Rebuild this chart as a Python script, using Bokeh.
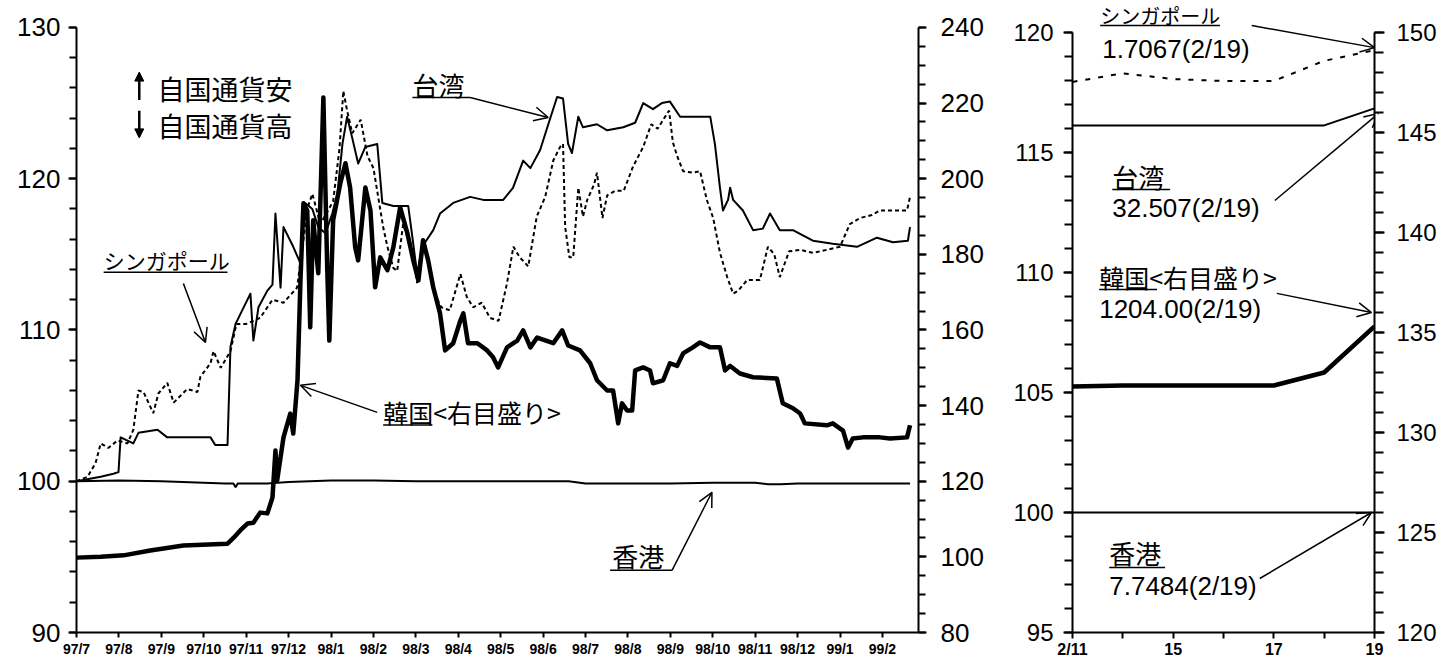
from bokeh.plotting import figure
from bokeh.models import (Range1d, LinearAxis, SingleIntervalTicker, FixedTicker,
                          Label, Arrow, OpenHead, NormalHead)
from bokeh.layouts import row
from bokeh.embed import file_html
from bokeh.resources import INLINE

# ---------------- data: left panel (x = months since 97/7) ----------------
month_labels = ["97/7", "97/8", "97/9", "97/10", "97/11", "97/12", "98/1", "98/2",
                "98/3", "98/4", "98/5", "98/6", "98/7", "98/8", "98/9", "98/10",
                "98/11", "98/12", "99/1", "99/2"]

sg_x = [0, 0.26, 0.45, 0.57, 0.75, 0.97, 1.20, 1.34, 1.46, 1.58, 1.81, 1.93, 2.14, 2.29,
        2.61, 2.85, 2.92, 3.16, 3.23, 3.40, 3.63, 3.77, 4.00, 4.33, 4.62, 4.88, 5.20, 5.45,
        5.56, 5.75, 6.05, 6.20, 6.29, 6.38, 6.50, 6.70, 6.86, 7.00, 7.23, 7.33, 7.47, 7.56,
        7.70, 7.94, 8.03, 8.20, 8.41, 8.60, 8.80, 9.05, 9.20, 9.35, 9.55, 9.75, 9.95, 10.15,
        10.30, 10.45, 10.65, 10.85, 11.05, 11.24, 11.40, 11.47, 11.52, 11.62, 11.71, 11.83,
        11.94, 12.04, 12.20, 12.27, 12.40, 12.51, 12.70, 12.90, 13.12, 13.36, 13.55, 13.70,
        13.83, 13.97, 14.06, 14.16, 14.30, 14.53, 14.70, 14.86, 15.01, 15.17, 15.34, 15.48,
        15.60, 15.81, 16.11, 16.30, 16.45, 16.58, 16.80, 17.06, 17.36, 17.69, 18.00, 18.23,
        18.47, 18.75, 18.94, 19.25, 19.58, 19.65]
sg_y = [100.0, 100.3, 101.2, 102.5, 102.2, 102.7, 102.5, 103.4, 106.0, 105.9, 104.5, 105.8,
        106.5, 105.2, 106.1, 105.9, 106.9, 107.8, 108.6, 107.5, 108.6, 110.4, 110.4, 110.8,
        112.0, 111.8, 112.8, 118.1, 119.0, 117.0, 118.5, 122.0, 125.8, 124.5, 123.0, 123.9,
        121.5, 120.7, 116.8, 115.5, 114.1, 113.9, 117.0, 114.9, 113.1, 115.9, 112.6, 111.5,
        111.3, 113.7, 112.2, 111.5, 111.8, 110.8, 110.6, 113.1, 115.5, 114.8, 114.2, 117.5,
        118.8, 121.2, 122.1, 122.3, 116.8, 114.8, 114.8, 119.4, 117.5, 118.6, 119.6, 120.4,
        117.4, 118.9, 119.2, 119.2, 120.8, 122.1, 123.6, 123.3, 123.9, 124.5, 122.4, 121.5,
        120.5, 120.4, 120.5, 118.6, 117.4, 115.1, 113.5, 112.4, 112.6, 113.3, 113.3, 115.5,
        115.0, 113.5, 115.2, 115.3, 115.1, 115.3, 115.5, 117.0, 117.4, 117.6, 117.9, 117.9,
        117.9, 118.8]

tw_x = [0, 0.57, 0.87, 0.99, 1.04, 1.34, 1.46, 1.91, 2.14, 3.16, 3.27, 3.56, 3.63, 3.75,
        4.10, 4.17, 4.29, 4.50, 4.62, 4.69, 4.81, 4.88, 5.11, 5.28, 5.39, 5.56, 5.70, 5.87,
        6.03, 6.15, 6.27, 6.38, 6.50, 6.64, 6.81, 7.09, 7.21, 7.47, 7.82, 7.92, 8.03, 8.15,
        8.41, 8.57, 8.88, 9.28, 9.59, 10.06, 10.29, 10.53, 10.70, 10.93, 11.10, 11.33, 11.47,
        11.59, 11.68, 11.83, 11.94, 12.27, 12.51, 12.89, 13.17, 13.36, 13.59, 13.80, 13.99,
        14.23, 14.63, 14.94, 15.05, 15.17, 15.24, 15.36, 15.41, 15.48, 15.71, 15.95, 16.18,
        16.35, 16.58, 16.89, 17.36, 17.83, 18.40, 18.87, 19.25, 19.60, 19.65]
tw_y = [100.0, 100.3, 100.5, 100.6, 102.9, 102.5, 103.2, 103.4, 102.9, 102.9, 102.4, 102.4,
        108.9, 110.4, 112.4, 109.3, 111.5, 112.6, 113.0, 117.7, 112.8, 116.8, 115.5, 114.4,
        118.4, 118.0, 116.8, 116.4, 117.7, 119.0, 122.3, 124.1, 122.7, 121.0, 122.1, 122.3,
        118.4, 118.2, 118.2, 116.1, 113.7, 115.5, 116.6, 117.7, 118.4, 118.8, 118.6, 118.6,
        119.4, 121.2, 120.7, 121.9, 123.4, 125.4, 125.3, 122.3, 121.7, 124.1, 123.4, 123.6,
        123.2, 123.4, 123.7, 125.0, 124.6, 125.0, 125.1, 124.1, 124.1, 124.1, 122.3, 119.4,
        117.9, 118.6, 119.4, 118.6, 117.9, 116.6, 116.7, 117.7, 116.6, 116.6, 115.9, 115.7,
        115.5, 116.1, 115.8, 115.9, 116.8]

kr_x = [0, 0.57, 1.11, 1.74, 2.52, 3.56, 3.70, 3.86, 4.03, 4.17, 4.33, 4.50, 4.62, 4.69,
        4.73, 4.88, 5.04, 5.11, 5.21, 5.28, 5.35, 5.44, 5.51, 5.58, 5.70, 5.82, 5.91, 5.96,
        6.05, 6.22, 6.34, 6.45, 6.57, 6.64, 6.81, 6.93, 7.04, 7.16, 7.33, 7.47, 7.63, 7.80,
        7.94, 8.06, 8.17, 8.29, 8.41, 8.57, 8.69, 8.88, 9.05, 9.12, 9.23, 9.45, 9.68, 9.82,
        9.94, 10.15, 10.39, 10.53, 10.70, 10.86, 11.24, 11.45, 11.59, 11.87, 12.11, 12.27,
        12.51, 12.65, 12.77, 12.86, 12.98, 13.10, 13.17, 13.36, 13.52, 13.59, 13.83, 13.99,
        14.16, 14.30, 14.53, 14.70, 14.94, 15.17, 15.29, 15.41, 15.64, 15.95, 16.51, 16.65,
        16.89, 17.06, 17.17, 17.69, 17.83, 18.07, 18.19, 18.30, 18.54, 18.94, 19.18, 19.58,
        19.65]
kr_y = [99.8, 100.0, 100.4, 101.7, 103.0, 103.5, 105.0, 107.0, 108.8, 109.0, 111.7, 111.5,
        115.7, 128.1, 120.2, 131.6, 137.9, 132.6, 146.7, 173.1, 193.5, 191.6, 160.7, 189.0,
        175.0, 221.5, 176.6, 157.2, 189.0, 198.8, 204.1, 197.7, 181.9, 178.4, 197.7, 191.6,
        171.3, 179.2, 175.8, 181.9, 192.4, 185.6, 178.4, 173.1, 183.7, 178.4, 171.3, 164.4,
        154.6, 156.5, 162.5, 164.4, 156.5, 156.5, 154.6, 152.8, 150.1, 155.4, 157.2, 159.9,
        155.4, 158.0, 156.5, 159.9, 155.9, 154.6, 151.2, 146.7, 144.0, 144.0, 135.3, 140.6,
        138.7, 138.7, 149.3, 150.1, 149.3, 145.9, 146.7, 151.2, 150.5, 153.8, 155.4, 156.7,
        155.4, 155.4, 149.3, 150.5, 148.5, 147.5, 147.2, 140.6, 139.3, 137.9, 135.3, 134.8,
        135.3, 133.4, 128.9, 131.3, 131.6, 131.6, 131.3, 131.6, 134.8]

hk_x = [0, 1, 2, 3, 3.5, 3.70, 3.75, 3.80, 4, 4.5, 5, 6, 7, 8, 9, 10, 11, 11.6, 12, 13,
        14, 15, 16, 16.3, 16.6, 17, 18, 19, 19.65]
hk_y = [100.0, 100.05, 100.0, 99.9, 99.85, 99.85, 99.6, 99.85, 99.85, 99.85, 99.95, 100.05,
        100.05, 100.0, 100.0, 100.0, 100.0, 100.0, 99.85, 99.85, 99.85, 99.9, 99.9, 99.8,
        99.8, 99.85, 99.85, 99.85, 99.85]

# ---------------- data: right panel (trading days 2/11 .. 2/19) ----------------
days = ["2/11", "2/12", "2/15", "2/16", "2/17", "2/18", "2/19"]
day_tick_labels = {0: "2/11", 2: "15", 4: "17", 6: "19"}
sg_recent = [117.94, 118.30, 118.06, 117.98, 117.98, 118.82, 119.26]
tw_recent = [116.13, 116.13, 116.13, 116.13, 116.13, 116.13, 116.84]
kr_recent = [132.3, 132.35, 132.35, 132.35, 132.35, 133.0, 135.3]
hk_recent = [100.0, 100.0, 100.0, 100.0, 100.0, 100.0, 100.0]

JP = "Noto Sans CJK JP"
NUM = "Liberation Sans"

TOP = 2          # common top border (room for notes above the axes)
BOTTOM = 28      # common bottom border
FRAME_H = 630


def style_axis(ax, size, tick_out, standoff, bold=False):
    ax.axis_line_width = 2
    ax.axis_line_color = "black"
    ax.major_tick_line_width = 2
    ax.minor_tick_line_width = 2
    ax.major_tick_line_color = "black"
    ax.minor_tick_line_color = "black"
    ax.major_tick_in = 0
    ax.minor_tick_in = 0
    ax.major_tick_out = tick_out
    ax.minor_tick_out = tick_out - 1
    ax.major_label_text_font = NUM
    ax.major_label_text_font_size = size
    ax.major_label_text_color = "black"
    ax.major_label_standoff = standoff
    ax.major_label_text_font_style = "bold" if bold else "normal"


def add_label(p, x, y, text, size, font=JP):
    p.add_layout(Label(x=x, y=y, text=text, text_font=font, text_font_size=size,
                       text_baseline="middle", text_align="left", text_color="black"))


def add_line(p, x0, y0, x1, y1, head=None, width=1.5):
    p.add_layout(Arrow(x_start=x0, y_start=y0, x_end=x1, y_end=y1, end=head,
                       line_width=width, line_color="black"))


def open_head():
    return OpenHead(size=14, line_width=1.5, line_color="black")


# ---------------- left figure ----------------
p1 = figure(frame_width=842, frame_height=FRAME_H, x_range=Range1d(0, 19.85),
            y_range=Range1d(90, 131.65),
            output_backend="svg", toolbar_location=None,
            min_border_left=76, min_border_right=77, min_border_top=TOP, min_border_bottom=BOTTOM)
p1.outline_line_color = None
p1.grid.visible = False
p1.extra_y_ranges = {"kr": Range1d(80, 246.6)}
p1.add_layout(LinearAxis(y_range_name="kr", bounds=(80, 240),
                         ticker=SingleIntervalTicker(interval=20, num_minor_ticks=4)), "right")
p1.yaxis[0].ticker = SingleIntervalTicker(interval=10, num_minor_ticks=5)
p1.yaxis[0].bounds = (90, 130)
p1.xaxis.ticker = FixedTicker(ticks=list(range(len(month_labels))), minor_ticks=[])
p1.xaxis.major_label_overrides = {i: lab for i, lab in enumerate(month_labels)}

style_axis(p1.yaxis[0], "26px", 8, 8)
style_axis(p1.yaxis[1], "26px", 8, 14)
style_axis(p1.xaxis[0], "14px", 5, 3, bold=True)

p1.line(hk_x, hk_y, line_width=2, color="black")
p1.line(tw_x, tw_y, line_width=2, color="black", line_join="round")
p1.line(sg_x, sg_y, line_width=2, color="black", line_dash="4 3")
p1.line(kr_x, kr_y, y_range_name="kr", line_width=4.5, color="black", line_join="round")

# notes
p1.add_layout(Arrow(x_start=1.48, y_start=125.2, x_end=1.48, y_end=127.05,
                    end=NormalHead(size=9, fill_color="black", line_color="black"),
                    line_width=2.5, line_color="black"))
p1.add_layout(Arrow(x_start=1.48, y_start=124.5, x_end=1.48, y_end=122.7,
                    end=NormalHead(size=9, fill_color="black", line_color="black"),
                    line_width=2.5, line_color="black"))
add_label(p1, 1.91, 125.97, "自国通貨安", "27px")
add_label(p1, 1.91, 123.52, "自国通貨高", "27px")

# Taiwan
add_label(p1, 7.92, 126.23, "台湾", "26px")
add_line(p1, 7.92, 125.37, 9.28, 125.37)
add_line(p1, 9.28, 125.37, 11.12, 124.05, open_head())
# Singapore
add_label(p1, 0.64, 114.6, "シンガポール", "21px")
add_line(p1, 0.64, 113.81, 3.56, 113.81)
add_line(p1, 2.52, 113.08, 3.04, 109.18, open_head())
# Korea
add_label(p1, 7.23, 104.55, "韓国<右目盛り>", "25px")
add_line(p1, 7.23, 103.72, 8.39, 103.72)
add_line(p1, 7.09, 104.55, 5.28, 106.34, open_head())
# Hong Kong
add_label(p1, 12.63, 95.1, "香港", "26px")
add_line(p1, 12.58, 94.11, 14.04, 94.11)
add_line(p1, 14.04, 94.11, 14.98, 99.27, open_head())

# ---------------- right figure ----------------
dx = list(range(len(days)))
p2 = figure(frame_width=302, frame_height=FRAME_H, x_range=Range1d(0, 6),
            y_range=Range1d(95, 121.25),
            output_backend="svg", toolbar_location=None,
            min_border_left=77, min_border_right=66, min_border_top=TOP, min_border_bottom=BOTTOM)
p2.outline_line_color = None
p2.grid.visible = False
p2.extra_y_ranges = {"kr": Range1d(120, 151.5)}
p2.add_layout(LinearAxis(y_range_name="kr", bounds=(120, 150),
                         ticker=SingleIntervalTicker(interval=5, num_minor_ticks=5)), "right")
p2.yaxis[0].ticker = SingleIntervalTicker(interval=5, num_minor_ticks=5)
p2.yaxis[0].bounds = (95, 120)
p2.xaxis.ticker = FixedTicker(ticks=sorted(day_tick_labels), minor_ticks=[1, 3, 5])
p2.xaxis.major_label_overrides = day_tick_labels

style_axis(p2.yaxis[0], "24px", 9, 10)
style_axis(p2.yaxis[1], "24px", 10, 12)
style_axis(p2.xaxis[0], "16px", 6, 2, bold=True)
p2.xaxis[0].minor_tick_out = 6

p2.line(dx, hk_recent, line_width=2, color="black")
p2.line(dx, tw_recent, line_width=2, color="black")
p2.line(dx, sg_recent, line_width=2, color="black", line_dash="5 8")
p2.line(dx, kr_recent, y_range_name="kr", line_width=4.5, color="black")

# notes
add_label(p2, 0.55, 120.71, "シンガポール", "20px")
add_line(p2, 0.55, 120.29, 2.93, 120.29)
add_label(p2, 0.59, 119.33, "1.7067(2/19)", "26px", NUM)
add_line(p2, 3.56, 120.29, 6.0, 119.37, open_head())

add_label(p2, 0.79, 114.0, "台湾", "26px")
add_line(p2, 0.79, 113.46, 1.94, 113.46)
add_label(p2, 0.79, 112.67, "32.507(2/19)", "26px", NUM)
add_line(p2, 4.02, 113.0, 6.08, 116.63, open_head())

add_label(p2, 0.53, 109.83, "韓国<右目盛り>", "25px")
add_line(p2, 0.53, 109.29, 1.68, 109.29)
add_label(p2, 0.53, 108.5, "1204.00(2/19)", "26px", NUM)
add_line(p2, 4.06, 109.13, 5.94, 108.33, open_head())

add_label(p2, 0.73, 98.33, "香港", "26px")
add_line(p2, 0.73, 97.71, 1.84, 97.71)
add_label(p2, 0.73, 96.92, "7.7484(2/19)", "26px", NUM)
add_line(p2, 3.72, 97.25, 5.94, 100.0, open_head())

layout = row(p1, p2)
open("out.html", "w").write(file_html(layout, INLINE))
